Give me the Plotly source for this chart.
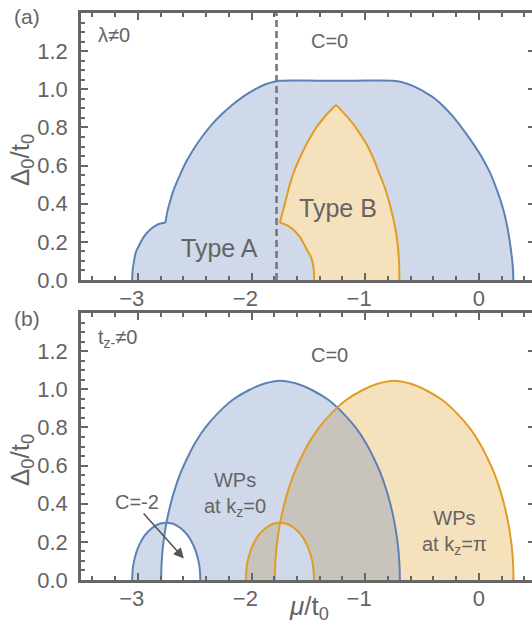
import numpy as np
import plotly.graph_objects as go

# ---------------- data ----------------
# panel (a): outer boundary of the coloured region (small left arc + big arch/plateau/descent)
a_blue_small_mu = [-3.05, -3.045, -3.035, -3.015, -2.99, -2.95, -2.90, -2.85, -2.80, -2.757]
a_blue_small_d = [0.0, 0.055, 0.095, 0.15, 0.18, 0.225, 0.26, 0.283, 0.296, 0.30]
a_blue_outer_mu = [-2.757, -2.74, -2.715, -2.68, -2.63, -2.57, -2.50, -2.43, -2.35, -2.26, -2.17, -2.07,
                   -1.97, -1.87, -1.80, -1.75, -1.40, -1.10, -0.76, -0.69, -0.58, -0.49, -0.40, -0.31,
                   -0.225, -0.14, -0.05, 0.03, 0.10, 0.16, 0.215, 0.25, 0.275, 0.29, 0.30, 0.303]
a_blue_outer_d = [0.30, 0.36, 0.415, 0.48, 0.55, 0.625, 0.695, 0.755, 0.815, 0.87, 0.918, 0.963,
                  1.0, 1.028, 1.04, 1.045, 1.045, 1.045, 1.045, 1.04, 1.018, 0.99, 0.957, 0.91,
                  0.855, 0.79, 0.715, 0.64, 0.56, 0.47, 0.37, 0.28, 0.19, 0.12, 0.06, 0.0]
# panel (a): Type B region (inner concave arc, left flank, right flank)
a_typeB_inner_mu = [-1.448, -1.452, -1.462, -1.48, -1.501, -1.535, -1.575, -1.62, -1.663, -1.71, -1.751]
a_typeB_inner_d = [0.0, 0.05, 0.09, 0.125, 0.145, 0.185, 0.226, 0.257, 0.278, 0.293, 0.30]
a_typeB_left_mu = [-1.751, -1.735, -1.72, -1.692, -1.663, -1.633, -1.59, -1.545, -1.49, -1.428, -1.35, -1.30, -1.257]
a_typeB_left_d = [0.30, 0.335, 0.37, 0.435, 0.50, 0.557, 0.62, 0.679, 0.74, 0.801, 0.86, 0.893, 0.918]
a_typeB_right_mu = [-1.257, -1.18, -1.105, -1.05, -0.99, -0.93, -0.875, -0.825, -0.785, -0.752, -0.727,
                    -0.712, -0.703, -0.70, -0.70]
a_typeB_right_d = [0.918, 0.87, 0.818, 0.77, 0.714, 0.64, 0.557, 0.48, 0.40, 0.32, 0.244,
                   0.17, 0.104, 0.05, 0.0]
a_dashed_mu = -1.78

# panel (b): Weyl-point arches
b_blue_big_mu = [-2.795, -2.793, -2.785, -2.77, -2.745, -2.715, -2.675, -2.625, -2.565, -2.495, -2.405,
                 -2.295, -2.165, -2.025, -1.885, -1.745, -1.605, -1.465, -1.325, -1.195, -1.085, -0.995,
                 -0.925, -0.865, -0.815, -0.775, -0.745, -0.72, -0.705, -0.697, -0.695]
b_blue_big_d = [0.0, 0.06, 0.14, 0.22, 0.31, 0.39, 0.475, 0.56, 0.64, 0.72, 0.80,
                0.875, 0.945, 0.995, 1.03, 1.045, 1.03, 0.995, 0.945, 0.875, 0.80, 0.72,
                0.64, 0.56, 0.475, 0.39, 0.31, 0.22, 0.14, 0.06, 0.0]
b_orange_big_mu = [-1.795, -1.793, -1.785, -1.77, -1.745, -1.715, -1.675, -1.625, -1.565, -1.495, -1.405,
                   -1.295, -1.165, -1.025, -0.885, -0.745, -0.605, -0.465, -0.325, -0.195, -0.085, 0.005,
                   0.075, 0.135, 0.185, 0.225, 0.255, 0.28, 0.295, 0.303, 0.305]
b_orange_big_d = [0.0, 0.06, 0.14, 0.22, 0.31, 0.39, 0.475, 0.56, 0.64, 0.72, 0.80,
                  0.875, 0.945, 0.995, 1.03, 1.045, 1.03, 0.995, 0.945, 0.875, 0.80, 0.72,
                  0.64, 0.56, 0.475, 0.39, 0.31, 0.22, 0.14, 0.06, 0.0]
b_blue_small_mu = [-3.05, -3.045, -3.035, -3.01, -2.99, -2.95, -2.90, -2.85, -2.80, -2.75,
                   -2.70, -2.65, -2.60, -2.55, -2.51, -2.49, -2.465, -2.455, -2.45]
b_blue_small_d = [0.0, 0.055, 0.095, 0.15, 0.18, 0.225, 0.26, 0.283, 0.296, 0.30,
                  0.296, 0.283, 0.26, 0.225, 0.18, 0.15, 0.095, 0.055, 0.0]
b_orange_small_mu = [-2.05, -2.045, -2.035, -2.01, -1.99, -1.95, -1.90, -1.85, -1.80, -1.75,
                     -1.70, -1.65, -1.60, -1.55, -1.51, -1.49, -1.465, -1.455, -1.45]
b_orange_small_d = [0.0, 0.055, 0.095, 0.15, 0.18, 0.225, 0.26, 0.283, 0.296, 0.30,
                    0.296, 0.283, 0.26, 0.225, 0.18, 0.15, 0.095, 0.055, 0.0]
b_arrow_tail = (-2.961, 0.357)
b_arrow_head = (-2.595, 0.113)

x_tick_vals = [-3, -2, -1, 0]
x_tick_text = ["\u22123\u2007", "\u22122\u2007", "\u22121\u2007", "0"]
y_tick_vals = [0.0, 0.2, 0.4, 0.6, 0.8, 1.0, 1.2]
y_tick_text = ["0.0", "0.2", "0.4", "0.6", "0.8", "1.0", "1.2"]

# ---------------- style ----------------
BLUE = "#5E81B5"
ORANGE = "#E19C24"
BL = "rgb(207,217,233)"
OR = "rgb(246,225,189)"
GR = "rgb(200,196,187)"
AX = "#666666"
TXT = "#646464"
FONT = "Liberation Sans, Arial, sans-serif"

W, H = 532, 622
ML, MR, MT, MB = 81, 0, 13, 42
PW, PH = W - ML - MR, H - MT - MB


def PX(px):
    return (px - ML) / PW


def PY(py):
    return (H - MB - py) / PH


def crossings(xa, ya, xb, yb, lo, hi):
    xs = np.array(sorted(set([x for x in list(xa) + list(xb) if lo <= x <= hi])))
    d = np.interp(xs, xa, ya) - np.interp(xs, xb, yb)
    out = []
    for i in range(len(xs) - 1):
        if d[i] * d[i + 1] < 0:
            t = d[i] / (d[i] - d[i + 1])
            out.append(xs[i] + t * (xs[i + 1] - xs[i]))
    return xs, out


def min_env(xa, ya, xb, yb):
    lo, hi = max(xa[0], xb[0]), min(xa[-1], xb[-1])
    xs, extra = crossings(xa, ya, xb, yb, lo, hi)
    xs = np.sort(np.concatenate([xs, extra]))
    return xs, np.minimum(np.interp(xs, xa, ya), np.interp(xs, xb, yb))


fig = go.Figure()


def fill(xs, ys, color, xa="x", ya="y", shape="linear"):
    fig.add_trace(go.Scatter(x=list(xs), y=list(ys), mode="none", fill="toself", fillcolor=color,
                             line=dict(shape=shape), xaxis=xa, yaxis=ya, hoverinfo="skip", showlegend=False))


def line(xs, ys, color, xa="x", ya="y", dash=None, width=2, shape="spline"):
    fig.add_trace(go.Scatter(x=list(xs), y=list(ys), mode="lines",
                             line=dict(color=color, width=width, dash=dash, shape=shape, smoothing=1.0),
                             xaxis=xa, yaxis=ya, hoverinfo="skip", showlegend=False))


# ---------------- panel (a) ----------------
fill(a_blue_small_mu + a_blue_outer_mu[1:], a_blue_small_d + a_blue_outer_d[1:], BL)
fill(a_typeB_inner_mu + a_typeB_left_mu[1:] + a_typeB_right_mu[1:],
     a_typeB_inner_d + a_typeB_left_d[1:] + a_typeB_right_d[1:], OR)
line(a_blue_small_mu, a_blue_small_d, BLUE)
line(a_blue_outer_mu, a_blue_outer_d, BLUE)
line(a_typeB_inner_mu, a_typeB_inner_d, ORANGE)
line(a_typeB_left_mu, a_typeB_left_d, ORANGE)
line(a_typeB_right_mu, a_typeB_right_d, ORANGE)
line([a_dashed_mu, a_dashed_mu], [0, 1.4], "#777777", dash="7px,4px", width=2.6, shape="linear")

# ---------------- panel (b) ----------------
fill(b_orange_big_mu, b_orange_big_d, OR, "x2", "y2")
fill(b_blue_big_mu, b_blue_big_d, BL, "x2", "y2")
xs, ys = min_env(b_blue_big_mu, b_blue_big_d, b_orange_big_mu, b_orange_big_d)
fill(xs, ys, GR, "x2", "y2")
fill(b_blue_small_mu, b_blue_small_d, BL, "x2", "y2")
xs, ys = min_env(b_blue_small_mu, b_blue_small_d, b_blue_big_mu, b_blue_big_d)
fill(xs, ys, "white", "x2", "y2")
# small orange arch, part outside the big orange arch (inside big blue) -> overlap colour
_, xc = crossings(b_orange_small_mu, b_orange_small_d, b_orange_big_mu, b_orange_big_d,
                  b_orange_big_mu[0], b_orange_small_mu[-1])
xc = xc[0]
yc = float(np.interp(xc, b_orange_small_mu, b_orange_small_d))
top_x = [x for x in b_orange_small_mu if x < xc] + [xc]
top_y = [y for x, y in zip(b_orange_small_mu, b_orange_small_d) if x < xc] + [yc]
bot = [(x, y) for x, y in zip(b_orange_big_mu, b_orange_big_d) if x < xc][::-1]
fill(top_x + [p[0] for p in bot], top_y + [p[1] for p in bot], GR, "x2", "y2")
xs, ys = min_env(b_orange_small_mu, b_orange_small_d, b_orange_big_mu, b_orange_big_d)
fill(xs, ys, BL, "x2", "y2")

line(b_blue_big_mu, b_blue_big_d, BLUE, "x2", "y2")
line(b_blue_small_mu, b_blue_small_d, BLUE, "x2", "y2")
line(b_orange_big_mu, b_orange_big_d, ORANGE, "x2", "y2")
line(b_orange_small_mu, b_orange_small_d, ORANGE, "x2", "y2")

# invisible anchors so the right-hand tick axes get drawn
for ya, xa in (("y3", "x"), ("y4", "x2")):
    fig.add_trace(go.Scatter(x=[-3.0], y=[0.5], mode="markers", marker=dict(opacity=0, size=1),
                             xaxis=xa, yaxis=ya, hoverinfo="skip", showlegend=False))

# ---------------- axes ----------------
XR = [-3.5, -3.5 + 4 * PW / 454.7]
tickfont = dict(family=FONT, size=22, color=TXT)


def xax(anchor):
    return dict(range=XR, domain=[0, 1], anchor=anchor, tickmode="array", tickvals=x_tick_vals,
                ticktext=x_tick_text, ticks="inside", ticklen=7, tickwidth=2, tickcolor=AX,
                minor=dict(tickmode="linear", tick0=0, dtick=0.2, ticks="inside", ticklen=4,
                           tickwidth=1.5, tickcolor=AX),
                showline=True, linecolor=AX, linewidth=2.5, mirror="ticks", showgrid=False,
                zeroline=False, tickfont=tickfont, ticklabelstandoff=-3, fixedrange=True)


def yax(domain, anchor):
    return dict(range=[0, 1.4], domain=domain, anchor=anchor, tickmode="array", tickvals=y_tick_vals,
                ticktext=y_tick_text, ticks="inside", ticklen=7, tickwidth=2, tickcolor=AX,
                minor=dict(tickmode="linear", tick0=0, dtick=0.05, ticks="inside", ticklen=4,
                           tickwidth=1.5, tickcolor=AX),
                showline=True, linecolor=AX, linewidth=2.5, mirror=False, showgrid=False,
                zeroline=False, tickfont=tickfont, ticklabelstandoff=6, fixedrange=True)


def yright(over, anchor):
    return dict(range=[0, 1.4], overlaying=over, anchor=anchor, side="right", tickmode="array",
                tickvals=y_tick_vals, ticktext=[""] * len(y_tick_vals), ticks="inside", ticklen=4,
                tickwidth=2, tickcolor=AX, showticklabels=False, showline=False, showgrid=False,
                zeroline=False, fixedrange=True)


top_dom = [PY(280), PY(13)]
bot_dom = [PY(580), PY(313)]

fig.update_layout(
    width=W, height=H, margin=dict(l=ML, r=MR, t=MT, b=MB, pad=0),
    paper_bgcolor="white", plot_bgcolor="white", showlegend=False,
    font=dict(family=FONT, color=TXT),
    xaxis=xax("y"), yaxis=yax(top_dom, "x"),
    xaxis2=xax("y2"), yaxis2=yax(bot_dom, "x2"),
    yaxis3=yright("y", "x"), yaxis4=yright("y2", "x2"),
)

# ---------------- texts ----------------
def note(text, px, py, size=20, xanchor="center", angle=0):
    fig.add_annotation(text=text, x=PX(px), y=PY(py), xref="paper", yref="paper", showarrow=False,
                       xanchor=xanchor, yanchor="middle", textangle=angle,
                       font=dict(family=FONT, size=size, color=TXT))


note("(a)", 27, 16, 21)
note("(b)", 27, 318, 21)
note("\u03bb\u22600", 114, 35, 20)
note("C=0", 329, 41, 20)
note("Type A", 219, 248, 25)
note("Type B", 338, 208, 25)
note("t<sub>z-</sub>\u22600", 96, 338, 20, xanchor="left")
note("C=0", 329, 355, 20)
note("WPs<br>at k<sub>z</sub>=0", 202, 494, 20, xanchor="left")
note("WPs<br>at k<sub>z</sub>=\u03c0", 420, 532, 20, xanchor="left")
note("C=-2", 137, 502, 20)
note("\u0394<sub>0</sub>/t<sub>0</sub>", 21, 160, 26, angle=-90)
note("\u0394<sub>0</sub>/t<sub>0</sub>", 21, 460, 26, angle=-90)
note("<i>\u03bc</i>/t<sub>0</sub>", 309, 607, 26)

fig.add_annotation(x=b_arrow_head[0], y=b_arrow_head[1], ax=b_arrow_tail[0], ay=b_arrow_tail[1],
                   xref="x2", yref="y2", axref="x2", ayref="y2", text="", showarrow=True,
                   arrowhead=2, arrowsize=1.3, arrowwidth=1.6, arrowcolor="#555555", standoff=0)

fig.write_html("out.html")
